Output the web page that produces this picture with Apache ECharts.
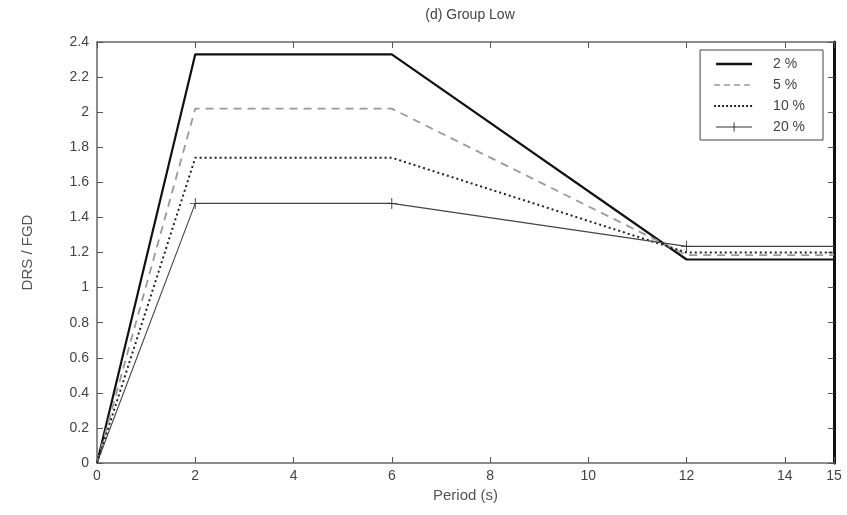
<!DOCTYPE html>
<html><head><meta charset="utf-8">
<script src="https://cdn.jsdelivr.net/npm/echarts@6/dist/echarts.min.js"></script>
<style>html,body{margin:0;padding:0;background:#fff}#c{width:847px;height:515px}</style>
</head><body><div id="c"></div>
<script>
var periods = [0, 2, 6, 12, 15];
var seriesNames = ['2 %', '5 %', '10 %', '20 %'];
var v2 = [0, 2.33, 2.33, 1.16, 1.16];
var v5 = [0, 2.02, 2.02, 1.185, 1.185];
var v10 = [0, 1.74, 1.74, 1.20, 1.20];
var v20 = [0, 1.48, 1.48, 1.235, 1.235];
var xTicks = [0, 2, 4, 6, 8, 10, 12, 14, 15];

var chart = echarts.init(document.getElementById('c'), null, {renderer: 'canvas'});
var font = 'Liberation Sans';
var plus = 'path://M4.6,0h0.8v10h-0.8z M0,4.6h10v0.8h-10z';
function pairs(v, marks) {
  return periods.map(function (p, i) {
    var d = {value: [p, v[i]]};
    if (marks) { d.symbol = (i >= 1 && i <= 3) ? plus : 'none'; }
    return d;
  });
}
// legend icons drawn in a 40x12 box (corner specks fix the bounding box)
var box = ' M0,0h0.01v0.01h-0.01z M39.99,11.99h0.01v0.01h-0.01z';
function dashes(len, gap, th) {
  var s = 'path://', y = 6 - th / 2;
  for (var x = 0; x < 40; x += len + gap) {
    var w = Math.min(len, 40 - x);
    s += 'M' + x + ',' + y + 'h' + w + 'v' + th + 'h-' + w + 'z ';
  }
  return s + box;
}
var icons = [
  'path://M2,4.8h36v2.4h-36z' + box,
  dashes(6, 4, 1.4),
  dashes(2, 2, 2),
  'path://M2,5.5h36v1h-36z M19.5,1.5h1v9h-1z' + box
];
var axisLbl = {color: '#444', fontFamily: font, fontSize: 14};
chart.setOption({
  animation: false,
  title: {text: '(d) Group Low', left: 465, top: 3, textAlign: 'center',
    textStyle: {fontFamily: font, fontSize: 14, fontWeight: 'normal', color: '#444'}},
  grid: {left: 97, right: 13, top: 42, bottom: 52},
  legend: {
    orient: 'vertical', right: 24, top: 50,
    backgroundColor: '#fff', borderColor: '#444', borderWidth: 1,
    padding: [7, 18, 6, 14], itemGap: 7, itemWidth: 40, itemHeight: 12,
    textStyle: {fontFamily: font, fontSize: 14, color: '#444', padding: [0, 0, 0, 14]},
    data: seriesNames.map(function (n, i) { return {name: n, icon: icons[i]}; })
  },
  xAxis: [{
    type: 'value', min: 0, max: 15, interval: 2,
    name: 'Period (s)', nameLocation: 'middle', nameGap: 21,
    nameTextStyle: {fontFamily: font, fontSize: 15, color: '#555'},
    axisLine: {onZero: false, lineStyle: {color: '#666', width: 1.5}},
    axisTick: {inside: true, length: 6, lineStyle: {color: '#555'}, customValues: xTicks},
    axisLabel: Object.assign({margin: 6, customValues: xTicks, showMaxLabel: true}, axisLbl),
    splitLine: {show: false}
  }, {
    type: 'value', min: 0, max: 15, interval: 2, position: 'top',
    axisLine: {onZero: false, lineStyle: {color: '#666', width: 1.5}},
    axisTick: {inside: true, length: 6, lineStyle: {color: '#555'}, customValues: xTicks},
    axisLabel: {show: false}, splitLine: {show: false}
  }],
  yAxis: [{
    type: 'value', min: 0, max: 2.4, interval: 0.2,
    name: 'DRS / FGD', nameLocation: 'middle', nameGap: 62,
    nameTextStyle: {fontFamily: font, fontSize: 15, color: '#555'},
    axisLine: {show: true, onZero: false, lineStyle: {color: '#666', width: 1.5}},
    axisTick: {show: true, inside: true, length: 6, lineStyle: {color: '#555'}},
    axisLabel: Object.assign({margin: 8, formatter: function (v) { return String(+v.toFixed(1)); }}, axisLbl),
    splitLine: {show: false}
  }, {
    type: 'value', min: 0, max: 2.4, interval: 0.2, position: 'right',
    axisLine: {show: true, onZero: false, lineStyle: {color: '#111', width: 3}},
    axisTick: {show: true, inside: true, length: 6, lineStyle: {color: '#555'}},
    axisLabel: {show: false}, splitLine: {show: false}
  }],
  series: [
    {name: seriesNames[0], type: 'line', symbol: 'none', data: pairs(v2),
      lineStyle: {color: '#111', width: 2.2}, itemStyle: {color: '#111'}},
    {name: seriesNames[1], type: 'line', symbol: 'none', data: pairs(v5),
      lineStyle: {color: '#999', width: 1.8, type: [8, 6]}, itemStyle: {color: '#999'}},
    {name: seriesNames[2], type: 'line', symbol: 'none', data: pairs(v10),
      lineStyle: {color: '#222', width: 2, type: [2, 3]}, itemStyle: {color: '#222'}},
    {name: seriesNames[3], type: 'line', symbolSize: 11, data: pairs(v20, true),
      lineStyle: {color: '#444', width: 1.1}, itemStyle: {color: '#333'}}
  ]
});
</script></body></html>
